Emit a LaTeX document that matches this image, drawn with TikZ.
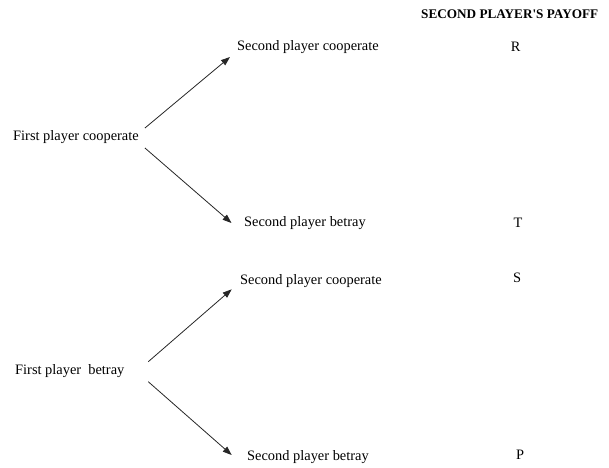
\documentclass[tikz,border=0pt]{standalone}
\usepackage{fontspec}
\setmainfont{Liberation Serif}
\newfontfamily\hdrfont{Liberation Serif}[Ligatures=TeXOff]
\usetikzlibrary{arrows.meta}
\tikzset{
  lbl/.style={inner sep=0pt, anchor=west, font=\fontsize{14.4}{16}\selectfont},
  pay/.style={inner sep=0pt, anchor=center, font=\fontsize{14.4}{16}\selectfont},
  hdr/.style={inner sep=0pt, anchor=west, font=\hdrfont\fontsize{13.2}{15}\selectfont\bfseries},
  arr/.style={-{Triangle[length=9pt,width=6.5pt]}, line width=0.8pt, draw=black!85}
}
\begin{document}
\begin{tikzpicture}[x=1pt,y=-1pt]
\useasboundingbox (0,0) rectangle (609,467);
\node[hdr] (hd) at (421,14) {SECOND PLAYER'S PAYOFF};
\node[lbl] (fpc) at (13,137) {First player cooperate};
\node[lbl] (spc1) at (237,47) {Second player cooperate};
\node[lbl] (spb1) at (244,223) {Second player betray};
\node[pay] (r) at (515.7,47) {R};
\node[pay] (t) at (518,223) {T};
\node[lbl] (fpb) at (15,371) {First player\ \ betray};
\node[lbl] (spc2) at (240,281) {Second player cooperate};
\node[lbl] (spb2) at (247,457) {Second player betray};
\node[pay] (s) at (517,278) {S};
\node[pay] (p) at (520,455) {P};
\draw[arr] ([shift={(6,-9)}]fpc.east) -- ([shift={(-7,10)}]spc1.west);
\draw[arr] ([shift={(6,11)}]fpc.east) -- ([shift={(-12.5,0)}]spb1.west);
\draw[arr] ([shift={(23.7,-9.3)}]fpb.east) -- ([shift={(-8.3,8.3)}]spc2.west);
\draw[arr] ([shift={(23.7,10.7)}]fpb.east) -- ([shift={(-15.3,-2)}]spb2.west);
\end{tikzpicture}
\end{document}
